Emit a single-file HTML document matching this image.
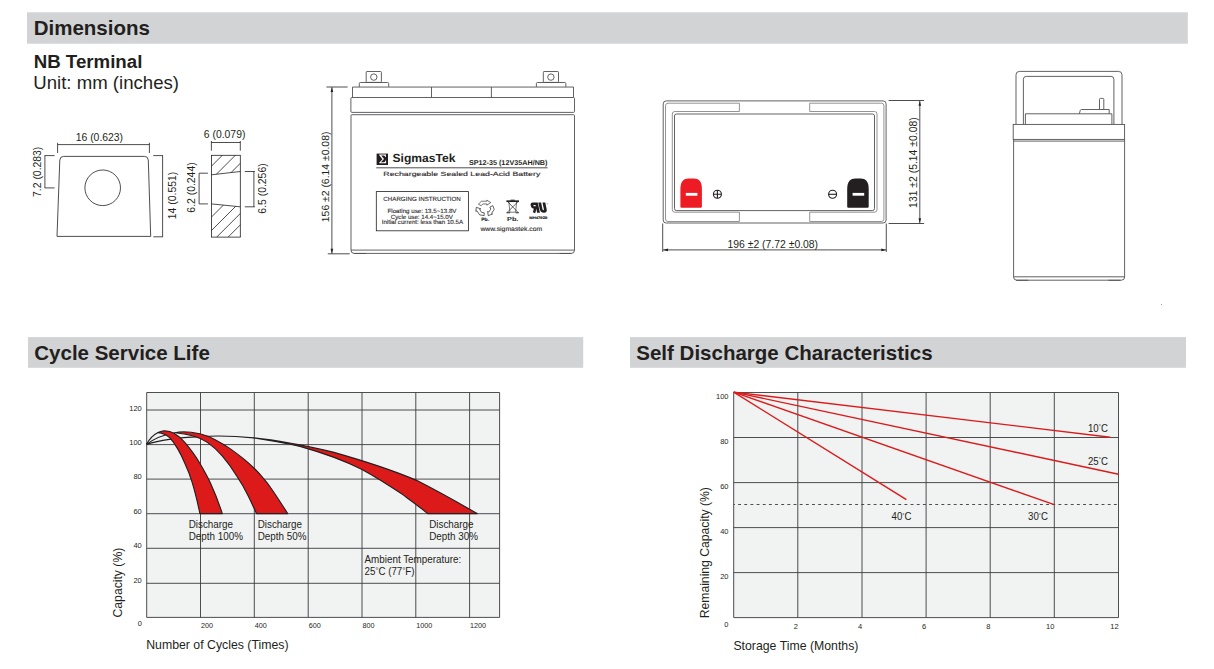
<!DOCTYPE html>
<html>
<head>
<meta charset="utf-8">
<title>Dimensions</title>
<style>
html,body{margin:0;padding:0;background:#fff;}
body{width:1214px;height:669px;overflow:hidden;font-family:"Liberation Sans",sans-serif;}
svg{display:block;position:absolute;left:0;top:0;}
text{font-family:"Liberation Sans",sans-serif;fill:#231f20;}
.b{font-weight:bold;}
.ln{fill:none;stroke:#231f20;stroke-width:0.8;}
.gl{fill:none;stroke:#505052;stroke-width:0.9;}
.gl2{fill:none;stroke:#77787b;stroke-width:0.8;}
.grid{fill:none;stroke:#3a3a3c;stroke-width:0.9;}
.dim{font-size:10.4px;}
.ax{font-size:7.5px;}
.lab{font-size:9.8px;}
</style>
</head>
<body>
<svg width="1214" height="669" viewBox="0 0 1214 669">
<!-- ===== header bars ===== -->
<rect x="27" y="12.3" width="1160.8" height="31.4" fill="#d1d3d4"/>
<rect x="28" y="337.1" width="555.2" height="30.7" fill="#d1d3d4"/>
<rect x="630" y="337.1" width="556" height="30.7" fill="#d1d3d4"/>
<text class="b" x="33.7" y="35.3" font-size="20.5">Dimensions</text>
<text class="b" x="34.3" y="359.9" font-size="20.5">Cycle Service Life</text>
<text class="b" x="636.3" y="359.9" font-size="20.5">Self Discharge Characteristics</text>
<text class="b" x="33.7" y="68" font-size="18.7">NB Terminal</text>
<text x="33.3" y="89.3" font-size="18.6">Unit: mm (inches)</text>

<!-- ===== terminal front ===== -->
<g id="term-front">
<path class="ln" d="M63.5 156.4 H144.6 Q148 156.4 148.3 160 L150.7 236.4 H57 L59.8 160 Q60.1 156.4 63.5 156.4 Z"/>
<circle class="ln" cx="102.7" cy="187.8" r="17.8"/>
<path class="ln" d="M57.6 144.6 H149.4 M57.6 142.8 V153 M149.4 142.8 V153"/>
<path class="ln" d="M44.9 155.6 V187.9 M44.6 155.6 H54.6 M44.6 187.9 H54.6"/>
<path class="ln" d="M162.6 155.6 V236.8 M153.3 155.6 H163 M153.3 236.8 H163"/>
<text class="dim" x="99.4" y="141.3" text-anchor="middle">16 (0.623)</text>
<text class="dim" transform="translate(41.3 171.8) rotate(-90)" text-anchor="middle">7.2 (0.283)</text>
<text class="dim" transform="translate(176.2 195.5) rotate(-90)" text-anchor="middle">14 (0.551)</text>
</g>

<!-- ===== terminal side ===== -->
<g id="term-side">
<clipPath id="hTop"><path d="M211.4 155.3 H240.3 V171.5 L211.4 174.8 Z"/></clipPath>
<clipPath id="hBot"><path d="M211.4 203.9 L240.3 206.8 V237.1 H211.4 Z"/></clipPath>
<g clip-path="url(#hTop)" class="ln">
<path d="M200 177.6 L230 147.6 M200 190.6 L243 147.6 M200 203.6 L256 147.6 M200 216.6 L269 147.6"/>
</g>
<g clip-path="url(#hBot)" class="ln">
<path d="M200 228.5 L250 178.5 M200 242 L250 192 M200 253.8 L250 203.8 M200 265.2 L250 215.2 M200 277 L250 227"/>
</g>
<rect class="ln" x="211.4" y="155.3" width="28.9" height="81.8"/>
<path class="ln" d="M211.4 174.8 L240.3 171.5 M211.4 203.9 L240.3 206.8"/>
<path class="ln" d="M211.4 142.5 H240.3 M211.4 141 V150.7 M240.3 141 V150.7"/>
<path class="ln" d="M199.1 173.2 V203.9 M199.1 173.2 H207.9 M199.1 203.9 H207.9"/>
<path class="ln" d="M253.9 171.5 V206.8 M244.8 171.5 H254.9 M244.8 206.8 H254.9"/>
<text class="dim" x="224.6" y="137.7" text-anchor="middle">6 (0.079)</text>
<text class="dim" transform="translate(194.8 187.5) rotate(-90)" text-anchor="middle">6.2 (0.244)</text>
<text class="dim" transform="translate(266.2 188.5) rotate(-90)" text-anchor="middle">6.5 (0.256)</text>
</g>

<!-- ===== battery front ===== -->
<g id="bat-front" style="text-rendering:geometricPrecision">
<!-- terminals -->
<rect class="gl" x="366.2" y="71.5" width="15.2" height="10.9" rx="0.8"/>
<circle class="gl" cx="373.8" cy="77.1" r="3.2"/>
<path class="gl" d="M359.3 86.9 V83.5 Q359.3 82.5 360.3 82.5 H387.7 Q388.7 82.5 388.7 83.5 V86.9"/>
<rect class="gl" x="543.3" y="71.5" width="15.2" height="10.9" rx="0.8"/>
<circle class="gl" cx="550.9" cy="77.1" r="3.2"/>
<path class="gl" d="M536.4 86.9 V83.5 Q536.4 82.5 537.4 82.5 H564.8 Q565.8 82.5 565.8 83.5 V86.9"/>
<!-- lid -->
<path class="gl" d="M352.5 97.5 V87.05 H573.5 V97.5"/>
<path class="gl" d="M431.5 87 V97.5 M491.4 87 V97.5"/>
<path class="gl" d="M352 97.5 H573.4 Q574.5 97.5 574.5 98.6 V111.3 Q574.5 112.4 573.4 112.4 H352 Q350.9 112.4 350.9 111.3 V98.6 Q350.9 97.5 352 97.5 Z"/>
<!-- body -->
<path class="gl" d="M351 115.7 Q351 114.7 352 114.7 H573.5 Q574.5 114.7 574.5 115.7 V250.2 Q574.5 253.4 571.3 253.4 H354.2 Q351 253.4 351 250.2 Z"/>
<path class="gl" d="M351 250.1 H574.5"/>
<path class="gl" d="M354 253.5 H366 M559.5 253.5 H571.5" stroke-width="1.2"/>
<!-- dimension -->
<path class="ln" d="M331.9 87.2 V253.6 M326.4 87 H347.6 M327.8 253.8 H349.7"/>
<path d="M331.9 87.2 L330.6 92 H333.2 Z M331.9 253.6 L330.6 248.8 H333.2 Z" fill="#231f20"/>
<text class="dim" transform="translate(329.2 176.9) rotate(-90)" text-anchor="middle">156 ±2 (6.14 ±0.08)</text>
<!-- label -->
<rect x="376.6" y="153.6" width="11.4" height="11.4" fill="#231f20"/>
<path d="M379.3 154.6 H385.9 V157.1 H385.3 Q385.1 155.6 383.7 155.6 H381.2 L384 158.9 L380.9 162.2 H384 Q385.2 162.2 385.5 160.6 H386.1 V163.3 H379.2 V162.7 L382.4 159.2 L379.3 155.3 Z" fill="#fff"/>
<text class="b" x="392.5" y="162" font-size="11.7" textLength="62.9" lengthAdjust="spacingAndGlyphs">SigmasTek</text>
<text class="b" x="468.9" y="165.3" font-size="7.1" textLength="78.6" lengthAdjust="spacingAndGlyphs">SP12-35 (12V35AH/NB)</text>
<path class="ln" d="M376.3 167.8 H547.6" style="stroke-width:0.8"/>
<text x="383.3" y="176" font-size="6.1" textLength="157" lengthAdjust="spacingAndGlyphs" style="fill:#2e2a2b;stroke:#2e2a2b;stroke-width:0.12">Rechargeable Sealed Lead-Acid Battery</text>
<rect class="ln" x="376.3" y="191.6" width="92.3" height="39.2" stroke-width="0.7"/>
<text x="383.3" y="201.3" font-size="6" textLength="77.5" lengthAdjust="spacingAndGlyphs" style="fill:#2e2a2b;stroke:#2e2a2b;stroke-width:0.12">CHARGING INSTRUCTION</text>
<text x="387.5" y="212.8" font-size="6" textLength="69" lengthAdjust="spacingAndGlyphs" style="fill:#2e2a2b;stroke:#2e2a2b;stroke-width:0.12">Floating use: 13.5~13.8V</text>
<text x="390.8" y="218.6" font-size="6" textLength="62.1" lengthAdjust="spacingAndGlyphs" style="fill:#2e2a2b;stroke:#2e2a2b;stroke-width:0.12">Cycle use: 14.4~15.0V</text>
<text x="381.7" y="224.1" font-size="6" textLength="81.4" lengthAdjust="spacingAndGlyphs" style="fill:#2e2a2b;stroke:#2e2a2b;stroke-width:0.12">Initial current: less than 10.5A</text>
<text x="480.4" y="231.1" font-size="6.3" textLength="61.8" lengthAdjust="spacingAndGlyphs" style="fill:#2e2a2b;stroke:#2e2a2b;stroke-width:0.12">www.sigmastek.com</text>
<!-- recycle -->
<g transform="translate(485.1 208.5) scale(1.08 0.93)" fill="none" stroke="#231f20" stroke-width="0.62" stroke-linejoin="round">
<path d="M-6.2 -4.6 L-3.4 -7.8 H1.6 V-9 L5.2 -6.4 L1.6 -3.6 V-4.9 H-2 L-3.6 -3 Z"/>
<g transform="rotate(120)"><path d="M-6.2 -4.6 L-3.4 -7.8 H1.6 V-9 L5.2 -6.4 L1.6 -3.6 V-4.9 H-2 L-3.6 -3 Z"/></g>
<g transform="rotate(240)"><path d="M-6.2 -4.6 L-3.4 -7.8 H1.6 V-9 L5.2 -6.4 L1.6 -3.6 V-4.9 H-2 L-3.6 -3 Z"/></g>
</g>
<text class="b" x="481.2" y="220.6" font-size="4.6" textLength="8" lengthAdjust="spacingAndGlyphs" style="fill:#2e2a2b;stroke:#2e2a2b;stroke-width:0.12">Pb.</text>
<!-- bin -->
<g stroke="#231f20" fill="none" stroke-width="0.6">
<path d="M506.4 201.2 H519 " stroke-width="1.7"/>
<path d="M510.5 200.2 H514.8" stroke-width="1"/>
<path d="M508.9 202 L509.9 212.2 H515.6 L516.6 202"/>
<path d="M507.6 201.6 L518.2 212.6 M518 201.6 L507 212.6" stroke-width="0.7"/>
<path d="M506.6 212.8 H510 M515.6 212.8 H518.8" stroke-width="1.1"/>
</g>
<text class="b" x="507.1" y="220.6" font-size="6" textLength="11.3" lengthAdjust="spacingAndGlyphs">Pb.</text>
<!-- UL -->
<g transform="translate(532.3 212.6) skewX(12) scale(1.07 1) translate(0 -10)" fill="none" stroke="#231f20" stroke-width="2.6" stroke-linejoin="miter">
<path d="M5.8 10.1 V1.2 H2.7 Q1.2 1.2 1.2 3 Q1.2 4.9 2.7 4.9 H5.8"/>
<path d="M4 4.9 L1.6 10.1" stroke-width="2.2"/>
<path d="M8.9 0 V6.4 Q8.9 8.9 10.85 8.9 Q12.8 8.9 12.8 6.4 V0"/>
</g>
<circle cx="547.2" cy="203.7" r="0.5" fill="#555"/>
<text class="b" x="529.2" y="218.9" font-size="3.7" textLength="18.2" lengthAdjust="spacingAndGlyphs" stroke="#231f20" stroke-width="0.15">MH47929</text>

</g>

<!-- ===== battery top view ===== -->
<g id="bat-top">
<rect class="gl" x="663.2" y="100.9" width="222.9" height="122.1" rx="3" ry="3" stroke-width="1"/>
<path class="gl2" d="M739.4 103.2 H668 Q665.5 103.2 665.5 105.7 V219 Q665.5 221.5 668 221.5 H739.4 V212.2 H674.8 Q672.3 212.2 672.3 209.7 V114 Q672.3 111.5 674.8 111.5 H739.4 Z"/>
<path class="gl2" d="M809.7 103.2 H881.4 Q883.9 103.2 883.9 105.7 V219 Q883.9 221.5 881.4 221.5 H809.7 V212.2 H874.5 Q877 212.2 877 209.7 V114 Q877 111.5 874.5 111.5 H809.7 Z"/>
<rect class="gl" x="674.5" y="114" width="200" height="96.6" rx="2" ry="2"/>
<!-- terminals -->
<path d="M680.4 206.5 V189 C680.4 181 684 178.4 688.5 178.4 H694 C698.5 178.4 701.9 181 701.9 189 V206.5 Q701.9 207.7 700.7 207.7 H681.6 Q680.4 207.7 680.4 206.5 Z" fill="#ed1c24"/>
<rect x="685.8" y="192.9" width="11.6" height="2.8" fill="#fff"/>
<path d="M847.2 206.5 V189 C847.2 181 850.8 178.4 855.3 178.4 H860.8 C865.3 178.4 868.7 181 868.7 189 V206.5 Q868.7 207.7 867.5 207.7 H848.4 Q847.2 207.7 847.2 206.5 Z" fill="#231f20"/>
<rect x="852.6" y="192.9" width="11.6" height="2.8" fill="#fff"/>
<g class="ln" style="stroke-width:1.1">
<circle cx="717.4" cy="194.3" r="4"/><path d="M713.4 194.3 H721.4 M717.4 190.3 V198.3"/>
<circle cx="832.6" cy="194.3" r="4"/><path d="M828.6 194.3 H836.6"/>
</g>
<!-- dims -->
<path class="ln" d="M919.8 100.7 V223.3 M888.6 100.5 H924.1 M888.6 223.5 H924.1"/>
<path d="M919.8 100.9 L918.5 105.7 H921.1 Z M919.8 223.1 L918.5 218.3 H921.1 Z" fill="#231f20"/>
<text class="dim" transform="translate(917 162.6) rotate(-90)" text-anchor="middle">131 ±2 (5.14 ±0.08)</text>
<path class="ln" d="M662.9 249.9 H886.1 M662.7 223.5 V251.9 M886.3 223.5 V251.9"/>
<path d="M663.2 249.9 L668 248.6 V251.2 Z M886.1 249.9 L881.3 248.6 V251.2 Z" fill="#231f20"/>
<text class="dim" x="772.8" y="247.6" text-anchor="middle">196 ±2 (7.72 ±0.08)</text>
</g>

<!-- ===== battery side view ===== -->
<g id="bat-side">
<path class="gl" d="M1016 124.4 V74.8 Q1016 71.4 1019.4 71.4 H1118.6 Q1122 71.4 1122 74.8 V124.4"/>
<path class="gl" d="M1023.4 124.4 V79.2 Q1023.4 76.4 1026.2 76.4 H1111.1 Q1113.9 76.4 1113.9 79.2 V124.4"/>
<path class="gl" d="M1025.4 124.4 V113.8 H1111.9 V124.4"/>
<path class="gl" d="M1079.3 113.8 L1080.3 110.3 Q1080.6 109.5 1081.5 109.5 H1109.2 V113.8"/>
<path class="gl" d="M1099.5 109.5 V99.4 Q1099.5 98.4 1100.5 98.4 H1102.8 Q1103.8 98.4 1103.8 99.4 V109.5"/>
<rect class="gl" x="1013.2" y="124.4" width="111.4" height="15"/>
<path class="gl" d="M1013.6 141.1 H1124.6 M1013.6 139.4 V277 Q1013.6 280.2 1016.8 280.2 H1121.4 Q1124.6 280.2 1124.6 277 V139.4"/>
<path class="gl" d="M1013.6 276.8 H1124.6"/>
<path class="gl" d="M1016.1 280.3 H1028.3 M1108.4 280.3 H1120.5" stroke-width="1.2"/>
<rect x="1161" y="304" width="1" height="1" fill="#999"/>
</g>

<!-- ===== chart 1 ===== -->
<g id="chart1">
<rect x="146.7" y="392.5" width="352.9" height="224.9" fill="#f1f2f2"/>
<path class="grid" d="M146.7 392.5 V617.4 M200.5 392.5 V617.4 M254.3 392.5 V617.4 M308.2 392.5 V617.4 M362.0 392.5 V617.4 M415.8 392.5 V617.4 M469.6 392.5 V617.4 M499.6 392.5 V617.4 M146.7 392.5 H499.6 M146.7 410.0 H499.6 M146.7 444.6 H499.6 M146.7 479.1 H499.6 M146.7 513.7 H499.6 M146.7 548.3 H499.6 M146.7 583.3 H499.6 M146.7 617.4 H499.6 "/>
<!-- 30% -->
<path d="M253.6 437.9 C275 440 300 444.4 333 452.1 C362 460.3 392 470 416 480.1 C440 492.3 464 506 477.2 513.6 H427.6 C420 507 410 500 402 494.1 C390 486 376 477 362 469.4 C345 461 320 452 300 446.4 C285 443 268 440 253.6 437.9 Z" fill="#dc1a1a" stroke="#231f20" stroke-width="1.15" stroke-linejoin="round"/>
<path class="ln" style="stroke-width:1.15" d="M146.5 444.4 C160 440 180 437.5 199.8 436.6 C215 435.6 232 435.6 253.6 437.9"/>
<!-- 50% -->
<path d="M175 432.8 C180 431.4 190 431.6 199.8 433.8 C206 435.3 211 437.5 214.7 439.4 C221 442.7 226 445.8 229.7 448.4 C236 452.8 241 456.7 244.6 459.6 C251 465 256 470 259.6 473.8 C266 480.8 271 487.6 274.5 493.2 C280 501.5 284.5 508.5 287.8 513.6 H256.5 C254 508 251 501.5 247.6 494.7 C244.5 488.5 241 482.5 237.2 476.8 C232.5 469 227.5 462 222.2 455.9 C217.5 450.5 212.5 446 207.3 442.4 C202.5 439.2 197.5 437 192.3 435.7 C187 434.2 181 433.3 175 432.8 Z" fill="#dc1a1a" stroke="#231f20" stroke-width="1.15" stroke-linejoin="round"/>
<path class="ln" style="stroke-width:1.15" d="M146.5 444.4 C153 439.5 162 435 175 432.8"/>
<!-- 100% -->
<path d="M158 432.6 C161 431 163 430.7 164.7 430.7 C168.5 430.8 171.8 432 174.4 433.5 C178.4 435.8 181.9 439 184.8 442.4 C190.4 449 195.6 456 199.8 463.3 C203.6 469.8 207.2 476.2 210.3 482.8 C215 493 219 503.5 222.3 513.6 H199.9 C197.8 503.5 195.4 493 192.3 482.8 C190.3 476 187.7 469.5 184.8 463.3 C182.7 458 180.2 453 177.4 448.4 C175.2 444.6 172.7 441 169.9 437.9 C166.5 434.8 162.5 433 158 432.6 Z" fill="#dc1a1a" stroke="#231f20" stroke-width="1.15" stroke-linejoin="round"/>
<path class="ln" style="stroke-width:1.15" d="M146.5 444.4 C149.5 439 153 435 158 432.6"/>
<!-- axis labels -->
<g class="ax" text-anchor="end">
<text x="141.8" y="410.8">120</text><text x="141.8" y="444.9">100</text><text x="141.8" y="479.0">80</text><text x="141.8" y="513.8">60</text><text x="141.8" y="547.8">40</text><text x="141.8" y="582.5">20</text><text x="141.8" y="626.0">0</text>
</g>
<g class="ax" style="font-size:7.2px">
<text x="201.0" y="628.1">200</text><text x="254.8" y="628.1">400</text><text x="308.7" y="628.1">600</text><text x="362.5" y="628.1">800</text><text x="416.3" y="628.1">1000</text><text x="470.1" y="628.1">1200</text>
</g>
<g class="lab">
<text x="188.7" y="527.65" font-size="10.0" textLength="44.3" lengthAdjust="spacingAndGlyphs">Discharge</text>
<text x="188.7" y="539.8" font-size="10.0" textLength="54.2" lengthAdjust="spacingAndGlyphs">Depth 100%</text>
<text x="257.7" y="527.65" font-size="10.0" textLength="44.3" lengthAdjust="spacingAndGlyphs">Discharge</text>
<text x="257.7" y="539.8" font-size="10.0" textLength="48.7" lengthAdjust="spacingAndGlyphs">Depth 50%</text>
<text x="429.2" y="527.65" font-size="10.0" textLength="44.3" lengthAdjust="spacingAndGlyphs">Discharge</text>
<text x="429.2" y="539.8" font-size="10.0" textLength="48.7" lengthAdjust="spacingAndGlyphs">Depth 30%</text>
<text x="364.5" y="563.1" font-size="10.0" textLength="96.7" lengthAdjust="spacingAndGlyphs">Ambient Temperature:</text>
<text x="364.5" y="574.7" font-size="10" transform="translate(364.5 0) scale(0.975 1) translate(-364.5 0)">25<tspan font-size="8" dy="-1.5">&#176;</tspan><tspan dy="1.5">C (77</tspan><tspan font-size="8" dy="-1.5">&#176;</tspan><tspan dy="1.5">F)</tspan></text>
</g>
<text transform="translate(121.6 582.6) rotate(-90)" text-anchor="middle" font-size="12.9" textLength="69.8" lengthAdjust="spacingAndGlyphs">Capacity (%)</text>
<text x="146.2" y="649.3" font-size="12.6" textLength="142.4" lengthAdjust="spacingAndGlyphs">Number of Cycles (Times)</text>
</g>

<!-- ===== chart 2 ===== -->
<g id="chart2">
<rect x="733.7" y="392.5" width="384.8" height="225.1" fill="#f1f2f2"/>
<path class="grid" d="M733.7 392.5 V617.6 M797.8 392.5 V617.6 M862.0 392.5 V617.6 M926.1 392.5 V617.6 M990.2 392.5 V617.6 M1054.3 392.5 V617.6 M1118.5 392.5 V617.6 M733.7 392.5 H1118.5 M733.7 437.5 H1118.5 M733.7 482.6 H1118.5 M733.7 527.6 H1118.5 M733.7 572.6 H1118.5 M733.7 617.6 H1118.5 "/>
<path d="M733.7 504.5 H1118.5" stroke="#3a3a3c" stroke-width="0.9" stroke-dasharray="2.9 3.26" stroke-dashoffset="1.75" fill="none"/>
<g stroke="#dc1a1a" stroke-width="1.4" fill="none">
<path d="M733.7 392.1 L1110.2 437.2"/>
<path d="M733.7 392.1 L1118.5 474.2"/>
<path d="M733.7 392.1 L1054.2 504.6"/>
<path d="M733.7 392.1 L906.4 499.7"/>
</g>
<g class="ax" text-anchor="end">
<text x="728.5" y="399">100</text><text x="728.5" y="443.7">80</text><text x="728.5" y="489">60</text><text x="728.5" y="534.3">40</text><text x="728.5" y="579.3">20</text><text x="728.5" y="627.3">0</text>
<text x="797.9" y="628.9">2</text><text x="862.1" y="628.9">4</text><text x="926.2" y="628.9">6</text><text x="990.3" y="628.9">8</text><text x="1054.4" y="628.9">10</text><text x="1118.6" y="628.9">12</text>
</g>
<g class="lab">
<text x="1088.0" y="432.1" font-size="10" transform="translate(1088.0 0) scale(0.967 1) translate(-1088.0 0)">10<tspan font-size="5.6" dy="-3.6">&#176;</tspan><tspan dy="3.6">C</tspan></text>
<text x="1088.0" y="465" font-size="10" transform="translate(1088.0 0) scale(0.967 1) translate(-1088.0 0)">25<tspan font-size="5.6" dy="-3.6">&#176;</tspan><tspan dy="3.6">C</tspan></text>
<text x="1028.1" y="520.3" font-size="10" transform="translate(1028.1 0) scale(0.967 1) translate(-1028.1 0)">30<tspan font-size="5.6" dy="-3.6">&#176;</tspan><tspan dy="3.6">C</tspan></text>
<text x="891.6" y="520.3" font-size="10" transform="translate(891.6 0) scale(0.967 1) translate(-891.6 0)">40<tspan font-size="5.6" dy="-3.6">&#176;</tspan><tspan dy="3.6">C</tspan></text>
</g>
<text transform="translate(709.3 552.7) rotate(-90)" text-anchor="middle" font-size="12.8" textLength="131.2" lengthAdjust="spacingAndGlyphs">Remaining Capacity (%)</text>
<text x="733.4" y="649.9" font-size="12.8" textLength="125" lengthAdjust="spacingAndGlyphs">Storage Time (Months)</text>
</g>

</svg>
</body>
</html>
